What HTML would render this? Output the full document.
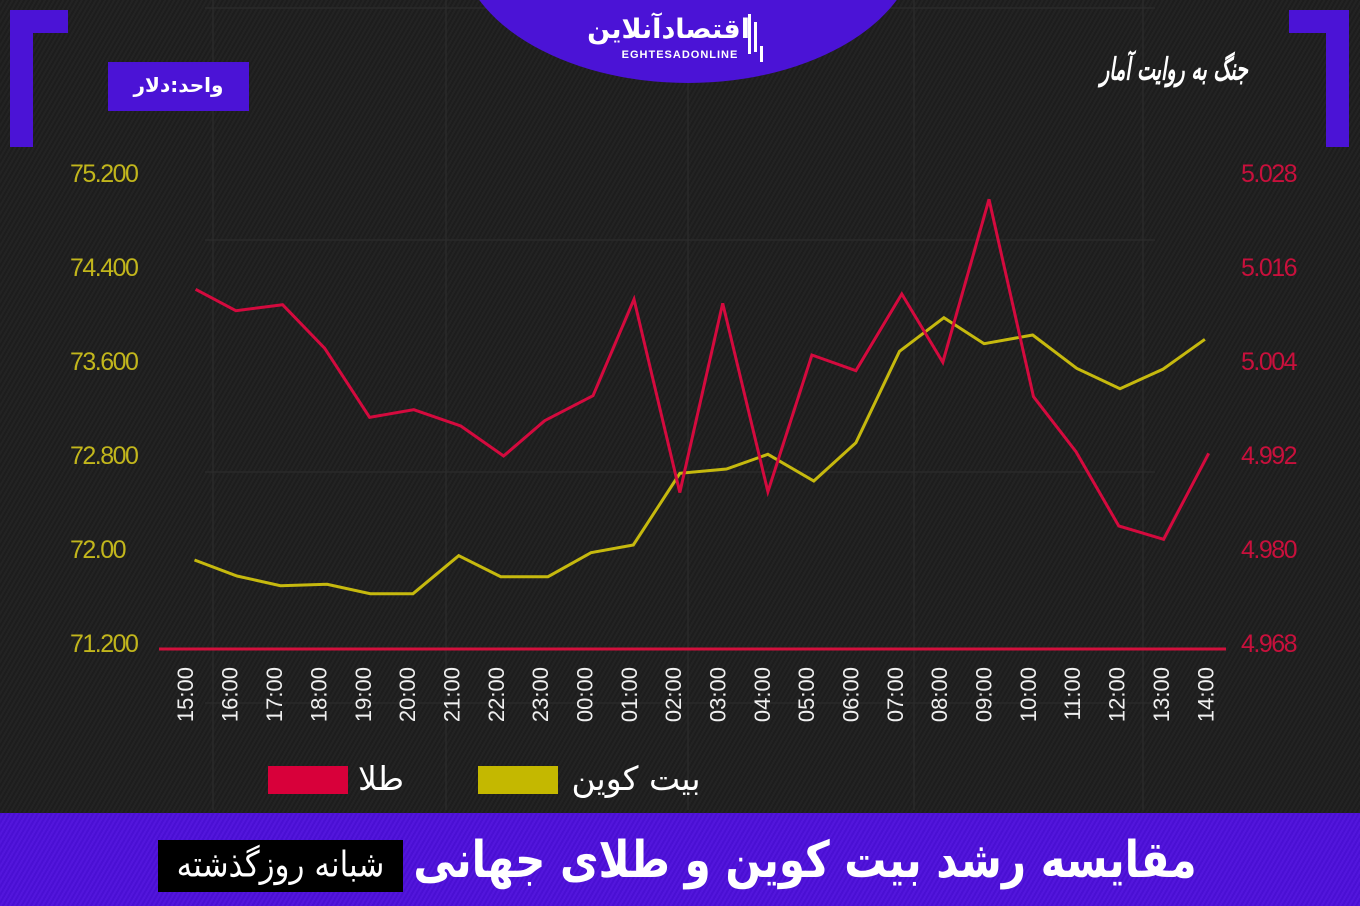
<!DOCTYPE html>
<html><head><meta charset="utf-8">
<style>
html,body{margin:0;padding:0;}
body{width:1360px;height:906px;overflow:hidden;background:#1e1e1e;position:relative;font-family:"Liberation Sans",sans-serif;}
.bg{position:absolute;left:0;top:0;width:1360px;height:906px;background:repeating-linear-gradient(120deg,#1d1d1d 0px,#1d1d1d 2px,#232323 2px,#232323 4px);}
.fa{font-family:"DejaVu Sans",sans-serif;direction:rtl;white-space:nowrap;position:absolute;color:#fff;}
.band{position:absolute;left:0;top:813px;width:1360px;height:93px;background:repeating-linear-gradient(120deg,#4a0fd3 0px,#4a0fd3 2px,#5316dc 2px,#5316dc 4px);}
</style></head><body>
<div class="bg"></div>
<svg width="1360" height="906" style="position:absolute;left:0;top:0" xmlns="http://www.w3.org/2000/svg">
  <g stroke="#2c2c2c" stroke-width="1.2">
    <line x1="213" y1="0" x2="213" y2="810"/>
    <line x1="446" y1="0" x2="446" y2="810"/>
    <line x1="688" y1="0" x2="688" y2="810"/>
    <line x1="914" y1="0" x2="914" y2="810"/>
    <line x1="1143" y1="0" x2="1143" y2="810"/>
    <line x1="205" y1="240" x2="1155" y2="240"/>
    <line x1="205" y1="472" x2="1155" y2="472"/>
    <line x1="205" y1="703" x2="1155" y2="703"/>
    <line x1="205" y1="8" x2="1155" y2="8"/>
  </g>
  <ellipse cx="688" cy="-60" rx="230" ry="143" fill="#4b13d6"/>
  <rect x="10" y="10" width="23" height="137" fill="#4b13d6"/>
  <rect x="10" y="10" width="58" height="23" fill="#4b13d6"/>
  <rect x="1326" y="10" width="23" height="137" fill="#4b13d6"/>
  <rect x="1289" y="10" width="60" height="23" fill="#4b13d6"/>
  <rect x="108" y="62" width="141" height="49" fill="#4b13d6"/>
  <text x="680" y="58" fill="#fff" font-family="Liberation Sans" font-weight="bold" font-size="11" text-anchor="middle" letter-spacing="1">EGHTESADONLINE</text>
  <rect x="748" y="14" width="3" height="40" fill="#fff"/>
  <rect x="754" y="22" width="3" height="30" fill="#fff"/>
  <rect x="760" y="46" width="3" height="16" fill="#fff"/>
  <g font-family="Liberation Sans" font-size="25" fill="#c2b61c" letter-spacing="-1.5">
    <text x="70" y="182">75.200</text>
    <text x="70" y="276">74.400</text>
    <text x="70" y="370">73.600</text>
    <text x="70" y="464">72.800</text>
    <text x="70" y="558">72.00</text>
    <text x="70" y="652">71.200</text>
  </g>
  <g font-family="Liberation Sans" font-size="25" fill="#c8103c" letter-spacing="-1.5">
    <text x="1241" y="182">5.028</text>
    <text x="1241" y="276">5.016</text>
    <text x="1241" y="370">5.004</text>
    <text x="1241" y="464">4.992</text>
    <text x="1241" y="558">4.980</text>
    <text x="1241" y="652">4.968</text>
  </g>
  <line x1="159" y1="649" x2="1226" y2="649" stroke="#d0103c" stroke-width="3"/>
  <g font-family="Liberation Sans" font-size="22" fill="#f0f0f0" text-anchor="end">
    <text transform="translate(193,667) rotate(-90)">15:00</text>
    <text transform="translate(237.5,667) rotate(-90)">16:00</text>
    <text transform="translate(282,667) rotate(-90)">17:00</text>
    <text transform="translate(326.5,667) rotate(-90)">18:00</text>
    <text transform="translate(371,667) rotate(-90)">19:00</text>
    <text transform="translate(415,667) rotate(-90)">20:00</text>
    <text transform="translate(459.5,667) rotate(-90)">21:00</text>
    <text transform="translate(504,667) rotate(-90)">22:00</text>
    <text transform="translate(548,667) rotate(-90)">23:00</text>
    <text transform="translate(592.5,667) rotate(-90)">00:00</text>
    <text transform="translate(637,667) rotate(-90)">01:00</text>
    <text transform="translate(681,667) rotate(-90)">02:00</text>
    <text transform="translate(725.5,667) rotate(-90)">03:00</text>
    <text transform="translate(770,667) rotate(-90)">04:00</text>
    <text transform="translate(814,667) rotate(-90)">05:00</text>
    <text transform="translate(858.5,667) rotate(-90)">06:00</text>
    <text transform="translate(903,667) rotate(-90)">07:00</text>
    <text transform="translate(947,667) rotate(-90)">08:00</text>
    <text transform="translate(991.5,667) rotate(-90)">09:00</text>
    <text transform="translate(1036,667) rotate(-90)">10:00</text>
    <text transform="translate(1080,667) rotate(-90)">11:00</text>
    <text transform="translate(1124.5,667) rotate(-90)">12:00</text>
    <text transform="translate(1169,667) rotate(-90)">13:00</text>
    <text transform="translate(1213.5,667) rotate(-90)">14:00</text>
  </g>
  <polyline fill="none" stroke="#c6b90e" stroke-width="3" stroke-linejoin="miter"
    points="194.5,560 237,576 280.5,585.7 327,584.3 370.3,593.7 413,593.7 458.7,555.7 500.8,576.7 548,576.7 591,552.7 633.3,545 679.9,473.3 726.5,469 767.9,454.3 813.8,481 855.9,442.7 899.5,351.3 943.9,317.7 984.1,343.7 1032.7,335 1076.7,368.3 1120,388.7 1162.8,369.3 1204.9,339.3"/>
  <polyline fill="none" stroke="#d40a3e" stroke-width="3" stroke-linejoin="miter"
    points="195.6,289.3 235.9,310.7 282.6,304.7 324.7,348.3 369.6,417.3 413.8,409.7 460.8,426 503.6,456 544.6,420.7 593,395.7 634,299.3 679.8,492.5 722.7,303.3 767.9,491.7 811.9,355 855.9,370.7 901.8,294 942.8,362.3 989,199.3 1033.5,396.7 1076,451.7 1118.8,526 1163.6,539.3 1208.7,453.3"/>
  <rect x="268" y="766" width="80" height="28" fill="#d8003a"/>
  <rect x="478" y="766" width="80" height="28" fill="#c4b800"/>
</svg>
<div class="band"></div>
<div style="position:absolute;left:158px;top:840px;width:245px;height:52px;background:#000;"></div>

<div class="fa" style="left:595px;top:12px;width:155px;text-align:center;font-size:27px;font-weight:bold;line-height:36px;">اقتصادآنلاین</div>
<div class="fa" style="left:108px;top:62px;width:141px;height:49px;line-height:47px;text-align:center;font-size:20px;font-weight:bold;">واحد:دلار</div>
<div class="fa" style="left:1098px;top:50px;width:152px;text-align:center;font-size:19px;font-style:italic;font-weight:bold;font-family:'DejaVu Serif',serif;line-height:40px;transform:scaleY(1.6);transform-origin:50% 50%;">جنگ به روایت آمار</div>
<div class="fa" style="left:352px;top:758px;width:58px;text-align:center;font-size:33px;line-height:42px;">طلا</div>
<div class="fa" style="left:566px;top:758px;width:140px;text-align:center;font-size:33px;line-height:42px;">بیت کوین</div>
<div class="fa" style="left:158px;top:840px;width:245px;height:52px;line-height:50px;text-align:center;font-size:31px;transform:scaleY(1.15);">شبانه روزگذشته</div>
<div class="fa" style="left:400px;top:828px;width:810px;height:64px;line-height:64px;text-align:center;font-size:42px;font-weight:bold;transform:scaleY(1.2);">مقایسه رشد بیت کوین و طلای جهانی</div>
</body></html>
